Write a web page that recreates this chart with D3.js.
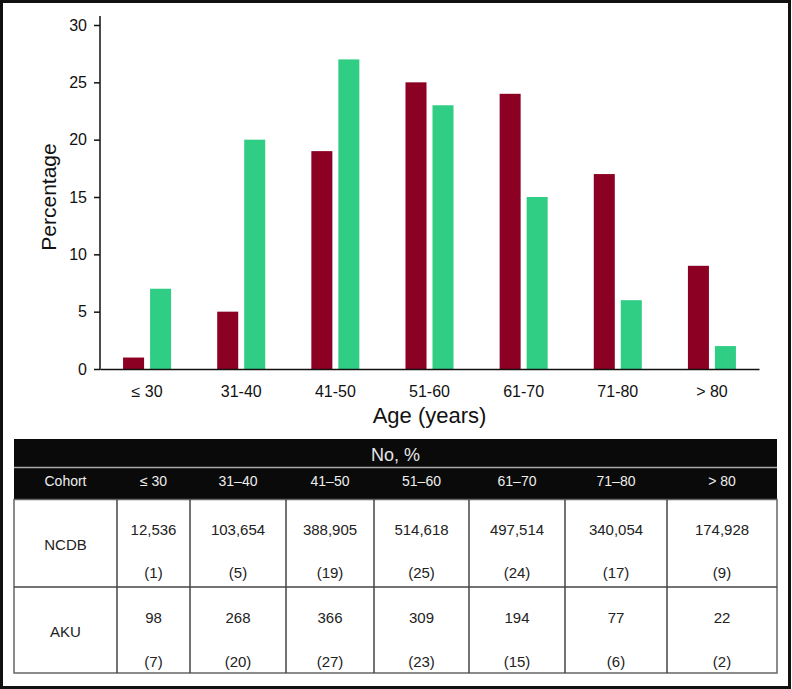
<!DOCTYPE html>
<html>
<head>
<meta charset="utf-8">
<script src="https://cdn.jsdelivr.net/npm/d3@7"></script>
<style>
  html, body { margin: 0; padding: 0; background: #fff; }
  svg { display: block; font-family: "Liberation Sans", Arial, Helvetica, sans-serif; }
</style>
</head>
<body>
<svg id="chart" width="792" height="689"></svg>
<script>
// ---- Data ----
const categories = ["≤ 30", "31-40", "41-50", "51-60", "61-70", "71-80", "> 80"];
const series = ["NCDB", "AKU"];
const ncdbPct = [1, 5, 19, 25, 24, 17, 9];
const akuPct = [7, 20, 27, 23, 15, 6, 2];
const yTicks = [0, 5, 10, 15, 20, 25, 30];
const tableCols = ["Cohort", "≤ 30", "31–40", "41–50", "51–60", "61–70", "71–80", "> 80"];
const ncdbCounts = ["12,536", "103,654", "388,905", "514,618", "497,514", "340,054", "174,928"];
const akuCounts = ["98", "268", "366", "309", "194", "77", "22"];

// ---- Layout ----
const colors = { NCDB: "#8b0023", AKU: "#30cd85" };
const svg = d3.select("#chart");

// Outer frame
svg.append("rect").attr("x", 1.5).attr("y", 1.5).attr("width", 788).attr("height", 686)
  .attr("fill", "none").attr("stroke", "#111").attr("stroke-width", 3);

const x0 = d3.scaleBand().domain(categories).range([100, 759]).padding(0);
const x1 = d3.scaleBand().domain(series)
  .range([x0.bandwidth() * 0.245, x0.bandwidth() * 0.755]).paddingInner(0.2222);
const y = d3.scaleLinear().domain([0, 30]).range([369, 25]);

const values = { NCDB: ncdbPct, AKU: akuPct };

// Bars
const g = svg.append("g");
categories.forEach((c, i) => {
  series.forEach(s => {
    g.append("rect")
      .attr("x", x0(c) + x1(s))
      .attr("y", y(values[s][i]))
      .attr("width", x1.bandwidth())
      .attr("height", y(0) - y(values[s][i]))
      .attr("fill", colors[s]);
  });
});

// Y axis
const yAxis = d3.axisLeft(y).tickValues(yTicks).tickSize(6).tickSizeOuter(0).tickPadding(7);
const yg = svg.append("g").attr("transform", "translate(100,0)").call(yAxis);
yg.select(".domain").remove();
yg.selectAll(".tick line").attr("stroke", "#111").attr("stroke-width", 1.5);
yg.selectAll(".tick text").attr("font-size", 16).attr("fill", "#111")
  .attr("font-family", "'Liberation Sans', Arial, sans-serif");
svg.append("line").attr("x1", 100).attr("x2", 100).attr("y1", y(30) - 9).attr("y2", y(0) + 0.75)
  .attr("stroke", "#111").attr("stroke-width", 1.5);

// X axis
const xAxis = d3.axisBottom(x0).tickSize(0).tickSizeOuter(0).tickPadding(17);
const xg = svg.append("g").attr("transform", `translate(0,${y(0)})`).call(xAxis);
xg.select(".domain").attr("stroke", "#111").attr("stroke-width", 1.5);
xg.selectAll(".tick text").attr("font-size", 16).attr("fill", "#111")
  .attr("font-family", "'Liberation Sans', Arial, sans-serif");

// Axis titles
svg.append("text").attr("transform", "translate(56,197) rotate(-90)")
  .attr("text-anchor", "middle").attr("font-size", 21).attr("fill", "#111").text("Percentage");
svg.append("text").attr("x", 429.5).attr("y", 423)
  .attr("text-anchor", "middle").attr("font-size", 22).attr("fill", "#111").text("Age (years)");

// ---- Table ----
const colEdges = [14, 117, 190, 286, 374, 469, 565, 667, 777];
const tTop = 439, hSep = 467.5, hBottom = 499.5, rowMid = 587, tBottom = 673;

svg.append("rect").attr("x", colEdges[0]).attr("y", tTop)
  .attr("width", colEdges[8] - colEdges[0]).attr("height", hBottom - tTop).attr("fill", "#0a0a0a");
svg.append("line").attr("x1", colEdges[0]).attr("x2", colEdges[8]).attr("y1", hSep).attr("y2", hSep)
  .attr("stroke", "#aaa").attr("stroke-width", 1.5);
svg.append("text").attr("x", (colEdges[0] + colEdges[8]) / 2).attr("y", 461)
  .attr("text-anchor", "middle").attr("font-size", 18).attr("fill", "#e6e6e6").text("No, %");

tableCols.forEach((c, i) => {
  svg.append("text").attr("x", (colEdges[i] + colEdges[i + 1]) / 2).attr("y", 486)
    .attr("text-anchor", "middle").attr("font-size", 14).attr("fill", "#eee").text(c);
});

// Body borders
const bodyG = svg.append("g").attr("stroke", "#444").attr("stroke-width", 1.5).attr("fill", "none");
bodyG.append("rect").attr("x", colEdges[0]).attr("y", hBottom)
  .attr("width", colEdges[8] - colEdges[0]).attr("height", tBottom - hBottom).attr("stroke", "#666");
bodyG.append("line").attr("x1", colEdges[0]).attr("x2", colEdges[8]).attr("y1", rowMid).attr("y2", rowMid);
colEdges.slice(1, 8).forEach(e => {
  bodyG.append("line").attr("x1", e).attr("x2", e).attr("y1", hBottom).attr("y2", tBottom);
});

const rows = [
  { name: "NCDB", counts: ncdbCounts, pct: ncdbPct, yNum: 535, yPct: 578, yLabel: 550 },
  { name: "AKU", counts: akuCounts, pct: akuPct, yNum: 623, yPct: 667, yLabel: 637 }
];
rows.forEach(r => {
  svg.append("text").attr("x", (colEdges[0] + colEdges[1]) / 2).attr("y", r.yLabel)
    .attr("text-anchor", "middle").attr("font-size", 15).attr("fill", "#222").text(r.name);
  r.counts.forEach((v, i) => {
    const cx = (colEdges[i + 1] + colEdges[i + 2]) / 2;
    svg.append("text").attr("x", cx).attr("y", r.yNum)
      .attr("text-anchor", "middle").attr("font-size", 15).attr("fill", "#222").text(v);
    svg.append("text").attr("x", cx).attr("y", r.yPct)
      .attr("text-anchor", "middle").attr("font-size", 15).attr("fill", "#222").text(`(${r.pct[i]})`);
  });
});
</script>
</body>
</html>
